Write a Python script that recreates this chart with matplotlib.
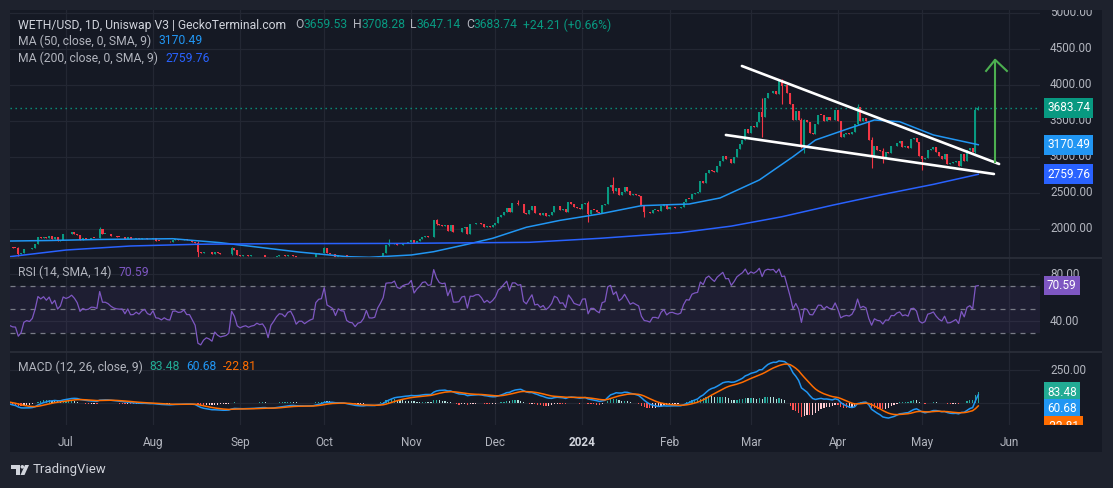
#!/usr/bin/env python
import numpy as np
import pandas as pd
import matplotlib
matplotlib.use("Agg")
import matplotlib.pyplot as plt
import matplotlib.dates as mdates
from matplotlib.patches import Rectangle, Polygon

# daily closes, 2023-06-11 .. 2024-05-21
warmup = [1812, 1806, 1818, 1853, 1800, 1804, 1827, 1829, 1910, 1893, 1901,
          1874, 1863, 1907, 1890, 1894, 1811, 1880, 1833, 1847, 1840, 1752]
c_jun = [1752, 1741, 1739, 1649, 1665, 1718, 1727, 1720, 1736, 1790,
         1890, 1875, 1895, 1874, 1901, 1860, 1888, 1829, 1853, 1934]
c_jul = [1924, 1935, 1955, 1937, 1910, 1850, 1871, 1862, 1866, 1879,
         1878, 1872, 2000, 1934, 1934, 1925, 1909, 1898, 1893, 1891,
         1892, 1866, 1891, 1858, 1859, 1870, 1860, 1874, 1881, 1862, 1856]
c_aug = [1872, 1839, 1837, 1829, 1836, 1828, 1826, 1854, 1855, 1850,
         1851, 1857, 1843, 1843, 1826, 1806, 1685, 1666, 1680, 1687,
         1677, 1657, 1684, 1660, 1646, 1648, 1650, 1656, 1731, 1706, 1645]
c_sep = [1630, 1635, 1638, 1628, 1632, 1634, 1641, 1634, 1636, 1616,
         1553, 1593, 1608, 1626, 1638, 1636, 1624, 1640, 1645, 1623,
         1584, 1594, 1594, 1582, 1588, 1593, 1596, 1653, 1668, 1671]
c_oct = [1733, 1664, 1656, 1647, 1611, 1644, 1634, 1632, 1580, 1568,
         1565, 1540, 1553, 1556, 1570, 1603, 1565, 1564, 1567, 1605,
         1629, 1661, 1782, 1786, 1786, 1805, 1780, 1776, 1800, 1810, 1815]
c_nov = [1847, 1800, 1832, 1856, 1894, 1900, 1887, 1892, 2120, 2076,
         2050, 2044, 2052, 1979, 2059, 1960, 1960, 1964, 2013, 2021,
         1930, 2064, 2063, 2083, 2085, 2063, 2027, 2048, 2030, 2052]
c_dec = [2087, 2165, 2192, 2243, 2293, 2232, 2358, 2358, 2342, 2352,
         2225, 2202, 2260, 2315, 2220, 2228, 2197, 2217, 2177, 2201,
         2240, 2326, 2313, 2266, 2271, 2230, 2379, 2346, 2301, 2291, 2282]
c_jan = [2352, 2356, 2209, 2269, 2268, 2240, 2222, 2331, 2343, 2584,
         2616, 2523, 2576, 2472, 2511, 2588, 2529, 2467, 2490, 2470,
         2452, 2313, 2243, 2235, 2218, 2267, 2267, 2256, 2316, 2344, 2283]
c_feb = [2305, 2309, 2297, 2290, 2299, 2372, 2423, 2420, 2485, 2500,
         2507, 2660, 2642, 2776, 2824, 2803, 2786, 2881, 2944, 3014,
         2967, 2970, 2920, 2994, 3112, 3177, 3241, 3385, 3340]
c_mar = [3433, 3421, 3486, 3629, 3552, 3823, 3891, 3884, 3912, 3879,
         4066, 3982, 4004, 3883, 3739, 3520, 3640, 3520, 3160, 3518,
         3489, 3335, 3325, 3454, 3590, 3587, 3495, 3560, 3512, 3508, 3647]
c_apr = [3505, 3279, 3314, 3332, 3316, 3350, 3455, 3698, 3505, 3543,
         3506, 3234, 3007, 3154, 3101, 3085, 2984, 3066, 3058, 3154,
         3148, 3200, 3220, 3140, 3155, 3130, 3256, 3264, 3215, 3012]
c_may = [2968, 2989, 3103, 3117, 3138, 3064, 3007, 2974, 3037, 2909,
         2912, 2930, 2950, 2880, 3037, 2943, 3093, 3123, 3071, 3659.53, 3683.74]

# notable wicks: date -> (high, low)
wicks = {
    "2023-06-14": (1745, 1626), "2023-07-13": (2029, 1870),
    "2023-08-17": (1830, 1550), "2023-08-29": (1745, 1640),
    "2023-10-01": (1750, 1670), "2023-10-24": (1855, 1770),
    "2023-11-10": (2135, 2060), "2023-12-09": (2400, 2330),
    "2024-01-03": (2385, 2100), "2024-01-12": (2717, 2500),
    "2024-01-23": (2310, 2165), "2024-03-05": (3825, 3280),
    "2024-03-12": (4090, 3740), "2024-03-19": (3545, 3130),
    "2024-03-20": (3530, 3060), "2024-04-08": (3730, 3450),
    "2024-04-13": (3280, 2850), "2024-04-17": (3125, 2910),
    "2024-05-01": (3020, 2817), "2024-05-20": (3690, 3050),
    "2024-05-21": (3708.28, 3647.14),
}

ma50_dates = ["2023-06-11", "2023-06-25", "2023-07-13", "2023-08-08", "2023-08-25",
              "2023-09-08", "2023-09-22", "2023-10-09", "2023-10-17", "2023-11-01",
              "2023-11-09", "2023-11-21", "2023-11-30", "2023-12-12", "2023-12-24",
              "2024-01-07", "2024-01-22", "2024-02-08", "2024-02-19", "2024-03-04",
              "2024-03-16", "2024-03-24", "2024-04-05", "2024-04-14", "2024-04-23",
              "2024-05-05", "2024-05-21"]
ma50_vals = [1833, 1840, 1855, 1865, 1810, 1745, 1680, 1616, 1607, 1639,
             1685, 1788, 1871, 2024, 2120, 2208, 2324, 2347, 2431, 2681,
             3004, 3236, 3398, 3514, 3490, 3306, 3170.49]
ma200_dates = ["2023-06-11", "2023-07-01", "2023-07-24", "2023-08-17", "2023-09-12",
               "2023-10-28", "2023-12-13", "2024-01-07", "2024-02-05", "2024-02-23",
               "2024-03-12", "2024-03-30", "2024-04-17", "2024-05-05", "2024-05-21"]
ma200_vals = [1616, 1708, 1764, 1788, 1796, 1800, 1815, 1870, 1950, 2040,
              2170, 2330, 2480, 2620, 2759.76]

price_ticks = [2000, 2500, 3000, 3500, 4000, 4500, 5000]
rsi_ticks = [40, 80]
macd_ticks = [0, 250]
months = ["2023-07-01", "2023-08-01", "2023-09-01", "2023-10-01", "2023-11-01",
          "2023-12-01", "2024-01-01", "2024-02-01", "2024-03-01", "2024-04-01",
          "2024-05-01", "2024-06-01"]
month_labels = ["Jul", "Aug", "Sep", "Oct", "Nov", "Dec", "2024",
                "Feb", "Mar", "Apr", "May", "Jun"]

# drawings on the chart
upper_line = (["2024-02-26 19:00", "2024-05-28 10:00"], [4264, 2903])
lower_line = (["2024-02-21 02:00", "2024-05-26 14:00"], [3306, 2764])
arrow_shaft = (["2024-05-27 00:00", "2024-05-27 00:00"], [2931, 4350])
arrow_head = (["2024-05-23 19:00", "2024-05-27 00:00", "2024-05-31 05:00"], [4195, 4350, 4195])

# ---------------------------------------------------------------
BG = "#1e222d"
PANE = "#151924"
GRID = "#232733"
SEP = "#2a2e39"
TXT = "#b2b5be"
UP = "#089981"
DOWN = "#f23645"

plt.rcParams["font.family"] = ["Roboto", "DejaVu Sans"]

W, H = 1113, 488
fig = plt.figure(figsize=(W / 100, H / 100), dpi=100, facecolor=BG)


def pax(x0, y0, x1, y1, **kw):
    return fig.add_axes([x0 / W, 1 - y1 / H, (x1 - x0) / W, (y1 - y0) / H], **kw)


closes = c_jun + c_jul + c_aug + c_sep + c_oct + c_nov + c_dec + c_jan + c_feb + c_mar + c_apr + c_may
dates = pd.date_range("2023-06-11", periods=len(closes), freq="D")
close = np.array(closes, dtype=float)
opn = np.concatenate([[warmup[-1]], close[:-1]])
high = np.maximum(opn, close)
low = np.minimum(opn, close)
for d, (hi, lo) in wicks.items():
    i = dates.get_loc(pd.Timestamp(d))
    high[i] = max(high[i], hi)
    low[i] = min(low[i], lo)
xs = mdates.date2num(dates)

# indicators from the closes
s = pd.Series(warmup + closes, dtype=float)
diff = s.diff()
gain = diff.clip(lower=0).ewm(alpha=1 / 14, adjust=False).mean()
loss = (-diff.clip(upper=0)).ewm(alpha=1 / 14, adjust=False).mean()
rsi = (100 - 100 / (1 + gain / loss)).values[len(warmup):]
macd = (s.ewm(span=12, adjust=False).mean() - s.ewm(span=26, adjust=False).mean())
signal = macd.ewm(span=9, adjust=False).mean()
hist = (macd - signal).values
prev = np.concatenate([[hist[0]], hist[:-1]])
macd = macd.values[len(warmup):]
signal = signal.values[len(warmup):]
prev = prev[len(warmup):]
hist = hist[len(warmup):]
hcol = []
for h, p in zip(hist, prev):
    if h >= 0:
        hcol.append("#26a69a" if h > p else "#b2dfdb")
    else:
        hcol.append("#ffcdd2" if h > p else "#ff5252")

# pixel -> value maps of the three panes
price_at = lambda y: 5000 - (y - 13) * 1000 / 72
rsi_at = lambda y: 70 - (y - 286) / 1.1675
macd_at = lambda y: (403 - y) / 0.132

jul1 = mdates.date2num(pd.Timestamp("2023-07-01"))
xlim = (jul1 + (10 - 66) / 2.807, jul1 + (1040 - 66) / 2.807)

# background / frame
bg = pax(0, 0, W, H, zorder=0)
bg.set_xlim(0, W)
bg.set_ylim(H, 0)
bg.axis("off")
bg.add_patch(Rectangle((10, 10), 1092, 442, fc=PANE, ec="none"))

ax = pax(10, 10, 1040, 258, zorder=2)
ar = pax(10, 258, 1040, 352, zorder=2)
am = pax(10, 352, 1040, 425, zorder=2)
ax.set_ylim(price_at(258), price_at(10))
ar.set_ylim(rsi_at(352), rsi_at(258))
am.set_ylim(macd_at(425), macd_at(352))
month_nums = mdates.date2num(pd.to_datetime(months))
for a, ticks in ((ax, price_ticks), (ar, rsi_ticks), (am, macd_ticks)):
    a.set_facecolor("none")
    for sp in a.spines.values():
        sp.set_visible(False)
    a.set_xlim(*xlim)
    a.set_yticks(ticks)
    a.set_xticks(month_nums)
    a.grid(True, color=GRID, lw=0.9)
    a.set_axisbelow(True)
    a.tick_params(length=0, labelleft=False, labelbottom=False)

am.tick_params(labelbottom=True, pad=8, labelsize=8.5, labelcolor=TXT)
am.set_xticklabels(month_labels)
for t in am.get_xticklabels():
    if t.get_text() == "2024":
        t.set_color("#d1d4dc")
        t.set_fontweight("bold")

# candles
cols = np.where(close >= opn, UP, DOWN)
ax.vlines(xs, low, high, colors=cols, lw=0.8, zorder=3)
body = np.where(np.abs(close - opn) < 4, 4, close - opn)
ax.bar(xs, body, bottom=opn, width=0.72, color=cols, lw=0, zorder=3)

ax.plot(pd.to_datetime(ma50_dates), ma50_vals, color="#2196f3", lw=1.1, zorder=4)
ax.plot(pd.to_datetime(ma200_dates), ma200_vals, color="#2962ff", lw=1.1, zorder=4)
ax.axhline(close[-1], color=UP, lw=1, ls=(0, (1, 2.6)), zorder=2)

for line in (upper_line, lower_line):
    ax.plot(pd.to_datetime(line[0]), line[1], color="white", lw=1.9,
            solid_capstyle="round", zorder=5)
ax.plot(pd.to_datetime(arrow_shaft[0]), arrow_shaft[1], color="#4caf50", lw=1.5, zorder=5)
ax.plot(pd.to_datetime(arrow_head[0]), arrow_head[1], color="#4caf50", lw=1.5, zorder=5)

# RSI
ar.axhspan(30, 70, color="#7e57c2", alpha=0.09, lw=0)
for lv in (30, 50, 70):
    ar.axhline(lv, color="#787b86", lw=0.9, ls=(0, (4, 4)))
ar.plot(xs, rsi, color="#7e57c2", lw=0.9, zorder=3)

# MACD
am.bar(xs, hist, width=0.45, color=hcol, lw=0, zorder=3)
am.plot(xs, macd, color="#2196f3", lw=1.1, zorder=4)
am.plot(xs, signal, color="#ff6d00", lw=1.1, zorder=4)

# right-hand scales
def side(y0, y1, ylim):
    sa = pax(1040, y0, 1102, y1, zorder=3)
    sa.set_xlim(0, 62)
    sa.set_ylim(*ylim)
    sa.axis("off")
    return sa

sp_ = side(10, 258, ax.get_ylim())
sr_ = side(258, 352, ar.get_ylim())
sm_ = side(352, 425, am.get_ylim())
for sa, ticks in ((sp_, price_ticks), (sr_, rsi_ticks), (sm_, [250])):
    for v in ticks:
        sa.text(10, v, f"{v:.2f}", color=TXT, fontsize=8.5, va="center", ha="left", clip_on=True)


def tag(sa, v, txt, color):
    sa.text(7, v, txt, color="white", fontsize=8.5, va="center", ha="left", clip_on=True,
            bbox=dict(boxstyle="square,pad=0.28", fc=color, ec="none"))

tag(sp_, 3683.74, "3683.74", UP)
tag(sp_, 3170.49, "3170.49", "#2196f3")
tag(sp_, 2759.76, "2759.76", "#2962ff")
tag(sr_, 70.59, "70.59", "#7e57c2")
tag(sm_, macd_at(392), "83.48", "#22ab94")
tag(sm_, macd_at(409), "60.68", "#2196f3")
tag(sm_, macd_at(426), "-22.81", "#ff6d00")

# overlay: separators, legends, footer
top = pax(0, 0, W, H, zorder=10)
top.set_xlim(0, W)
top.set_ylim(H, 0)
top.axis("off")
top.set_facecolor("none")
top.hlines([258, 352], 10, 1102, color=SEP, lw=1.3)

renderer = fig.canvas.get_renderer()


def spans(x, y, parts, size=8.7):
    for txt, color, gap in parts:
        t = top.text(x, y, txt, color=color, fontsize=size, va="center", ha="left")
        x += t.get_window_extent(renderer).width + gap

spans(18, 25, [("WETH/USD, 1D, Uniswap V3 | GeckoTerminal.com", "#d1d4dc", 9),
               ("O", TXT, 0), ("3659.53", UP, 5), ("H", TXT, 0), ("3708.28", UP, 5),
               ("L", TXT, 0), ("3647.14", UP, 5), ("C", TXT, 0), ("3683.74", UP, 5),
               ("+24.21 (+0.66%)", UP, 0)])
spans(18, 41, [("MA (50, close, 0, SMA, 9)", TXT, 7), ("3170.49", "#2196f3", 0)])
spans(18, 58, [("MA (200, close, 0, SMA, 9)", TXT, 7), ("2759.76", "#2962ff", 0)])
spans(18, 272, [("RSI (14, SMA, 14)", TXT, 7), ("70.59", "#7e57c2", 0)])
spans(18, 367, [("MACD (12, 26, close, 9)", TXT, 7), ("83.48", "#22ab94", 6),
                ("60.68", "#2196f3", 6), ("-22.81", "#ff6d00", 0)])

# TradingView logo + name
top.add_patch(Polygon([(11, 465), (20, 465), (20, 475), (16, 475), (16, 468.5), (11, 468.5)],
                      closed=True, fc="#d1d4dc", ec="none"))
top.add_patch(plt.Circle((22.3, 466.8), 1.8, fc="#d1d4dc", ec="none"))
top.add_patch(Polygon([(25, 465), (29, 465), (24.5, 475), (20.5, 475)],
                      closed=True, fc="#d1d4dc", ec="none"))
top.text(33, 470, "TradingView", color="#d1d4dc", fontsize=9.5, va="center", ha="left")

fig.savefig("out.png", dpi=100, facecolor=BG)
